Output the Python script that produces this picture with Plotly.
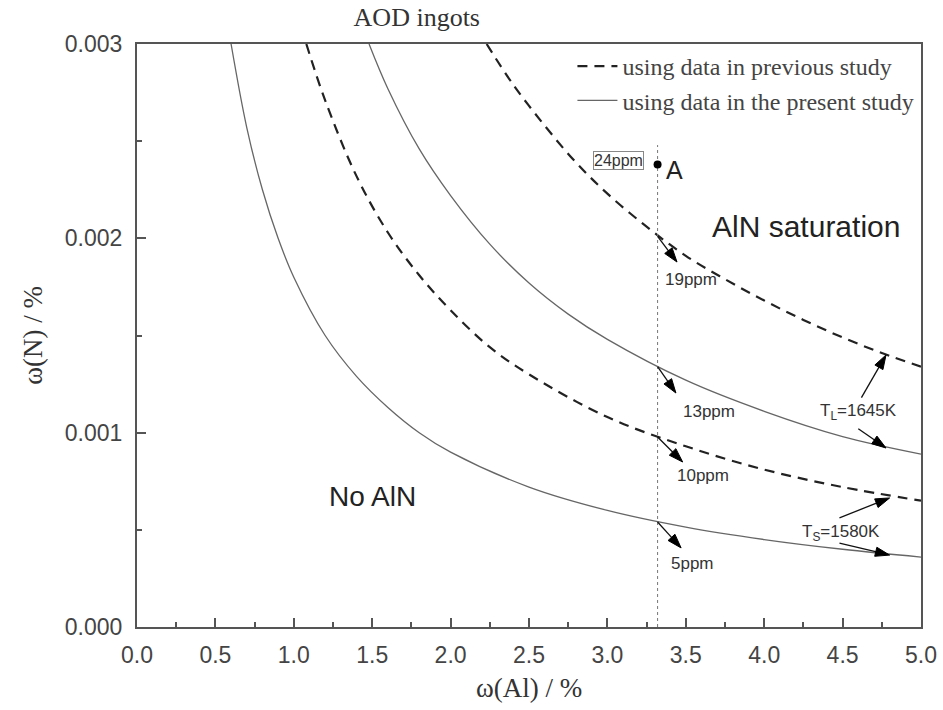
import plotly.graph_objects as go

# Curves (x = w(Al) %, y = w(N) %)
ts_present_x = [0.6, 0.7, 0.8, 0.9, 1.0, 1.2, 1.4, 1.6, 1.8, 2.0, 2.5, 3.0, 3.5, 4.0, 4.5, 5.0]
ts_present_y = [0.00300, 0.00257, 0.00225, 0.00200, 0.00180, 0.00150, 0.00129, 0.00113,
                0.00100, 0.00090, 0.00072, 0.00060, 0.000514, 0.00045, 0.00040, 0.00036]

ts_prev_x = [1.08, 1.2, 1.4, 1.6, 1.8, 2.0, 2.25, 2.5, 3.0, 3.5, 4.0, 4.5, 5.0]
ts_prev_y = [0.00300, 0.00271, 0.00232, 0.00203, 0.00181, 0.00163, 0.00144, 0.00130,
             0.00108, 0.00093, 0.00081, 0.00072, 0.00065]

tl_present_x = [1.48, 1.6, 1.8, 2.0, 2.25, 2.5, 2.75, 3.0, 3.5, 4.0, 4.5, 5.0]
tl_present_y = [0.00300, 0.00277, 0.00246, 0.00222, 0.00197, 0.00177, 0.00161, 0.00148,
                0.00127, 0.00111, 0.00098, 0.00089]

tl_prev_x = [2.23, 2.4, 2.6, 2.8, 3.0, 3.25, 3.5, 3.75, 4.0, 4.25, 4.5, 4.75, 5.0]
tl_prev_y = [0.00300, 0.00279, 0.00258, 0.00239, 0.00223, 0.00206, 0.00191, 0.00179,
             0.00168, 0.00158, 0.00149, 0.00141, 0.00134]

ingot_al = 3.32
point_a_n = 0.00238
vline_y = [0.0, 0.00248]

# ppm annotations: label, tail (on curve), head, label position
ppm_labels = ["19ppm", "13ppm", "10ppm", "5ppm"]
ppm_tail_y = [0.00201, 0.00134, 0.000978, 0.00054]
ppm_head_x = [3.444, 3.437, 3.48, 3.47]
ppm_head_y = [0.001878, 0.001204, 0.000849, 0.000407]
ppm_text_x = [3.53, 3.65, 3.61, 3.54]
ppm_text_y = [0.00179, 0.00111, 0.000782, 0.000329]

# temperature labels and their arrows (tail -> head)
temp_labels = ["T<sub>L</sub>=1645K", "T<sub>S</sub>=1580K"]
temp_text_x = [4.60, 4.49]
temp_text_y = [0.001106, 0.000484]
temp_arrows = [
    ((4.62, 0.00118), (4.777, 0.00140)),
    ((4.60, 0.00102), (4.777, 0.000921)),
    ((4.48, 0.000562), (4.80, 0.000664)),
    ((4.48, 0.000432), (4.80, 0.00037)),
]

SERIF = "Liberation Serif, Times New Roman, serif"
SANS = "Liberation Sans, Arial, sans-serif"
LINE = "#555555"
TXT = "#333333"

fig = go.Figure()

fig.add_trace(go.Scatter(x=tl_prev_x, y=tl_prev_y, mode="lines", line_shape="spline",
                         line=dict(color="#222222", width=2.2, dash="10px,7px"),
                         name="using data in previous study", showlegend=True))
fig.add_trace(go.Scatter(x=tl_present_x, y=tl_present_y, mode="lines", line_shape="spline",
                         line=dict(color="#666666", width=1.3),
                         name="using data in the present study", showlegend=True))
fig.add_trace(go.Scatter(x=ts_prev_x, y=ts_prev_y, mode="lines", line_shape="spline",
                         line=dict(color="#222222", width=2.2, dash="10px,7px"),
                         showlegend=False))
fig.add_trace(go.Scatter(x=ts_present_x, y=ts_present_y, mode="lines", line_shape="spline",
                         line=dict(color="#666666", width=1.3), showlegend=False))
fig.add_trace(go.Scatter(x=[ingot_al, ingot_al], y=vline_y, mode="lines",
                         line=dict(color="#777777", width=1, dash="dot"), showlegend=False))
fig.add_trace(go.Scatter(x=[ingot_al], y=[point_a_n], mode="markers",
                         marker=dict(color="black", size=8), showlegend=False))


def add_arrow(x0, y0, x1, y1):
    fig.add_trace(go.Scatter(
        x=[x0, x1], y=[y0, y1], mode="lines+markers", showlegend=False, hoverinfo="skip",
        line=dict(color="#111111", width=1.3),
        marker=dict(symbol=["circle", "arrow"], size=[0, 15], color="#000000", opacity=1,
                    angleref="previous", line=dict(width=1, color="#000000")),
    ))


for ty, hx, hy in zip(ppm_tail_y, ppm_head_x, ppm_head_y):
    add_arrow(ingot_al, ty, hx, hy)
for (t, h) in temp_arrows:
    add_arrow(t[0], t[1], h[0], h[1])

annotations = []
for lab, lx, ly in zip(ppm_labels, ppm_text_x, ppm_text_y):
    annotations.append(dict(x=lx, y=ly, xref="x", yref="y", text=lab, showarrow=False,
                            font=dict(family=SANS, size=17, color=TXT)))
for lab, lx, ly in zip(temp_labels, temp_text_x, temp_text_y):
    annotations.append(dict(x=lx, y=ly, xref="x", yref="y", text=lab, showarrow=False,
                            font=dict(family=SANS, size=17, color=TXT)))

annotations += [
    dict(x=3.068, y=0.002398, xref="x", yref="y", text="24ppm", showarrow=False,
         font=dict(family=SANS, size=16, color=TXT), bordercolor="#888888",
         borderwidth=1, borderpad=0),
    dict(x=ingot_al + 0.04, y=point_a_n - 0.00003, xref="x", yref="y", text="A", showarrow=False,
         xanchor="left", font=dict(family=SANS, size=25, color="#222222")),
    dict(x=4.267, y=0.002063, xref="x", yref="y", text="AlN saturation", showarrow=False,
         font=dict(family=SANS, size=30, color="#222222")),
    dict(x=1.505, y=0.000669, xref="x", yref="y", text="No AlN", showarrow=False,
         font=dict(family=SANS, size=28, color="#222222")),
]

fig.update_layout(
    width=943, height=710,
    margin=dict(l=137, r=22, t=44, b=83, autoexpand=False),
    paper_bgcolor="white", plot_bgcolor="white",
    title=dict(text="AOD ingots", x=0.442, xanchor="center", y=0.976, yanchor="middle",
               font=dict(family=SERIF, size=26, color=TXT)),
    legend=dict(x=0.998, y=1.0, xanchor="right", yanchor="top", bgcolor="rgba(0,0,0,0)",
                font=dict(family=SERIF, size=24, color="#444444"), tracegroupgap=0,
                itemwidth=40),
    annotations=annotations,
    showlegend=True,
)

fig.update_xaxes(range=[0, 5.0], dtick=0.5, tickformat=".1f", ticks="inside", ticklen=9,
                 tickwidth=2, tickcolor=LINE, showline=True, linecolor=LINE, linewidth=2,
                 mirror=True, showgrid=False, zeroline=False, ticklabelstandoff=6,
                 automargin=False,
                 tickfont=dict(family=SANS, size=23, color="#444444"),
                 minor=dict(dtick=0.25, ticks="inside", ticklen=5, tickwidth=2, tickcolor=LINE),
                 title=dict(text="ω(Al) / %", font=dict(family=SERIF, size=27, color=TXT),
                            standoff=12))
fig.update_yaxes(range=[0, 0.003], dtick=0.001, tickformat=".3f", ticks="inside", ticklen=9,
                 tickwidth=2, tickcolor=LINE, showline=True, linecolor=LINE, linewidth=2,
                 mirror=True, showgrid=False, zeroline=False, ticklabelstandoff=8,
                 automargin=False,
                 tickfont=dict(family=SANS, size=23, color="#444444"),
                 minor=dict(dtick=0.0005, ticks="inside", ticklen=5, tickwidth=2, tickcolor=LINE),
                 title=dict(text="ω(N) / %", font=dict(family=SERIF, size=27, color=TXT),
                            standoff=14))

fig.write_html("out.html", config={"displayModeBar": False},
               post_script="document.body.style.margin='0';")
